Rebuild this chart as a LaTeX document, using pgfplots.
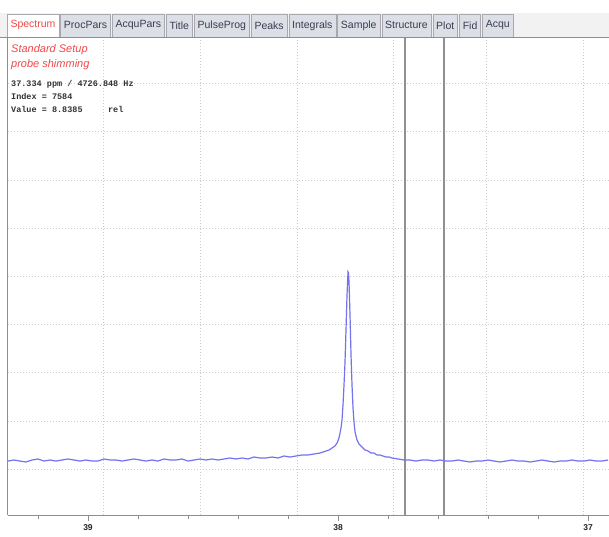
\documentclass[border=0pt]{standalone}
\usepackage{pgfplots}
\pgfplotsset{compat=1.18}
\usepackage{fontspec}
\setmainfont{Liberation Sans}
\newfontfamily\monofont{Liberation Mono}
\definecolor{spec}{HTML}{7373F0}
\definecolor{redtxt}{HTML}{F04848}
\definecolor{tabfill}{HTML}{DCDFE6}
\definecolor{tabtext}{HTML}{3C3C52}
\definecolor{tabborder}{HTML}{A8A8AE}
\definecolor{gridc}{HTML}{CCCCCC}
\definecolor{cursorc}{HTML}{909090}
\definecolor{axisc}{HTML}{8E8E8E}
\definecolor{stripc}{HTML}{F2F2F2}
\begin{document}
\begin{tikzpicture}[x=1pt,y=1pt,
  tab/.style={draw=tabborder, fill=tabfill, inner xsep=3.3pt, inner ysep=0pt,
    minimum height=23pt, anchor=south west, text=tabtext,
    font=\fontsize{10.5}{11}\selectfont}]
\useasboundingbox (0pt,0pt) rectangle (609pt,-536pt);
\fill[white] (0pt,0pt) rectangle (609pt,-536pt);
\begin{axis}[
  at={(8pt,-515pt)}, anchor=south west,
  scale only axis, width=601pt, height=478pt,
  x dir=reverse,
  xmin=36.916, xmax=39.32, ymin=0, ymax=9.917,
  axis x line*=bottom, axis y line*=left,
  x axis line style={-, draw=axisc, line width=1pt},
  y axis line style={-, draw=axisc, line width=1pt},
  xtick={37,38,39}, xticklabels={37,38,39},
  minor xtick={37.2,37.4,37.6,37.8,38.2,38.4,38.6,38.8,39.2},
  tick align=outside, major tick length=6pt, minor tick length=4pt,
  xtick style={draw=axisc, line width=0.8pt},
  minor x tick style={draw=axisc, line width=0.8pt},
  ytick={0.95,1.95,2.95,3.95,4.95,5.95,6.95,7.95,8.95}, yticklabels={},
  ytick style={draw=none},
  ymajorgrids=true,
  extra x ticks={38.94,38.552,38.164,37.78,37.408,37.02},
  extra x tick labels={},
  extra x tick style={xmajorgrids=true, major tick length=0pt, tick style={draw=none}},
  grid style={gridc, dash pattern=on 1pt off 2pt, line width=0.8pt},
  xticklabel style={font=\fontsize{8.5}{9}\selectfont\bfseries, text=black!85},
  /pgf/number format/assume math mode=true,
  clip=true,
]
\addplot[cursorc, line width=1.5pt] coordinates {(37.732,0) (37.732,9.917)};
\addplot[cursorc, line width=1.5pt] coordinates {(37.576,0) (37.576,9.917)};
\addplot[spec, line width=1.2pt] table {
x y
39.320 1.120
39.296 1.141
39.272 1.120
39.248 1.100
39.224 1.141
39.200 1.162
39.176 1.120
39.152 1.141
39.128 1.120
39.104 1.141
39.080 1.162
39.056 1.141
39.032 1.120
39.008 1.141
38.984 1.120
38.960 1.120
38.936 1.162
38.912 1.141
38.888 1.141
38.864 1.120
38.840 1.141
38.816 1.162
38.792 1.141
38.768 1.120
38.744 1.141
38.720 1.120
38.696 1.162
38.672 1.141
38.648 1.141
38.624 1.162
38.600 1.120
38.576 1.141
38.552 1.162
38.528 1.141
38.504 1.162
38.480 1.141
38.456 1.162
38.432 1.183
38.408 1.162
38.384 1.183
38.360 1.162
38.336 1.203
38.312 1.183
38.288 1.183
38.264 1.203
38.240 1.183
38.216 1.224
38.192 1.203
38.168 1.224
38.144 1.245
38.120 1.245
38.096 1.266
38.072 1.286
38.060 1.307
38.048 1.328
38.036 1.349
38.024 1.390
38.012 1.432
38.004 1.494
37.996 1.598
37.988 1.805
37.984 1.971
37.980 2.282
37.976 2.697
37.972 3.174
37.968 3.838
37.964 4.564
37.960 5.041
37.958 5.021
37.956 4.834
37.952 4.149
37.948 3.320
37.944 2.697
37.940 2.220
37.936 1.929
37.932 1.722
37.924 1.556
37.916 1.473
37.904 1.411
37.892 1.349
37.880 1.328
37.868 1.286
37.856 1.286
37.844 1.245
37.832 1.245
37.820 1.224
37.808 1.203
37.796 1.203
37.784 1.183
37.760 1.162
37.736 1.141
37.712 1.141
37.688 1.120
37.664 1.141
37.640 1.141
37.616 1.120
37.592 1.141
37.568 1.120
37.544 1.120
37.520 1.141
37.496 1.120
37.472 1.100
37.448 1.120
37.424 1.120
37.400 1.141
37.376 1.120
37.352 1.100
37.328 1.120
37.304 1.141
37.280 1.120
37.256 1.120
37.232 1.100
37.208 1.120
37.184 1.141
37.160 1.120
37.136 1.100
37.112 1.120
37.088 1.120
37.064 1.141
37.040 1.120
37.016 1.120
36.992 1.141
36.968 1.120
36.944 1.120
36.920 1.141
};
\end{axis}
\fill[white] (0pt,0pt) rectangle (609pt,-13pt);
\fill[stripc] (0pt,-13pt) rectangle (609pt,-37pt);
% tabs
\node[tab, fill=white, text=redtxt] (t1) at (7pt,-37pt) {Spectrum};
\node[tab] (t2) at ([xshift=1.5pt]t1.south east) {ProcPars};
\node[tab] (t3) at ([xshift=1.5pt]t2.south east) {AcquPars};
\node[tab] (t4) at ([xshift=1.5pt]t3.south east) {Title};
\node[tab] (t5) at ([xshift=1.5pt]t4.south east) {PulseProg};
\node[tab] (t6) at ([xshift=1.5pt]t5.south east) {Peaks};
\node[tab] (t7) at ([xshift=1.5pt]t6.south east) {Integrals};
\node[tab] (t8) at ([xshift=1.5pt]t7.south east) {Sample};
\node[tab] (t9) at ([xshift=1.5pt]t8.south east) {Structure};
\node[tab] (t10) at ([xshift=1.5pt]t9.south east) {Plot};
\node[tab] (t11) at ([xshift=1.5pt]t10.south east) {Fid};
\node[tab] (t12) at ([xshift=1.5pt]t11.south east) {Acqu};
\draw[axisc, line width=1pt] (0pt,-37pt) -- (609pt,-37pt);
% annotation text
\node[anchor=base west, inner sep=0pt, text=redtxt, font=\fontsize{11}{12}\selectfont\itshape] at (11pt,-52pt) {Standard Setup};
\node[anchor=base west, inner sep=0pt, text=redtxt, font=\fontsize{11}{12}\selectfont\itshape] at (11pt,-67pt) {probe shimming};
\node[anchor=base west, inner sep=0pt, text=black!80, font=\monofont\fontsize{8.5}{9}\selectfont\bfseries] at (11pt,-86pt) {37.334 ppm / 4726.848 Hz};
\node[anchor=base west, inner sep=0pt, text=black!80, font=\monofont\fontsize{8.5}{9}\selectfont\bfseries] at (11pt,-99pt) {Index = 7584};
\node[anchor=base west, inner sep=0pt, text=black!80, font=\monofont\fontsize{8.5}{9}\selectfont\bfseries] at (11pt,-112pt) {Value = 8.8385\ \ \ \ \ rel};
\end{tikzpicture}
\end{document}
